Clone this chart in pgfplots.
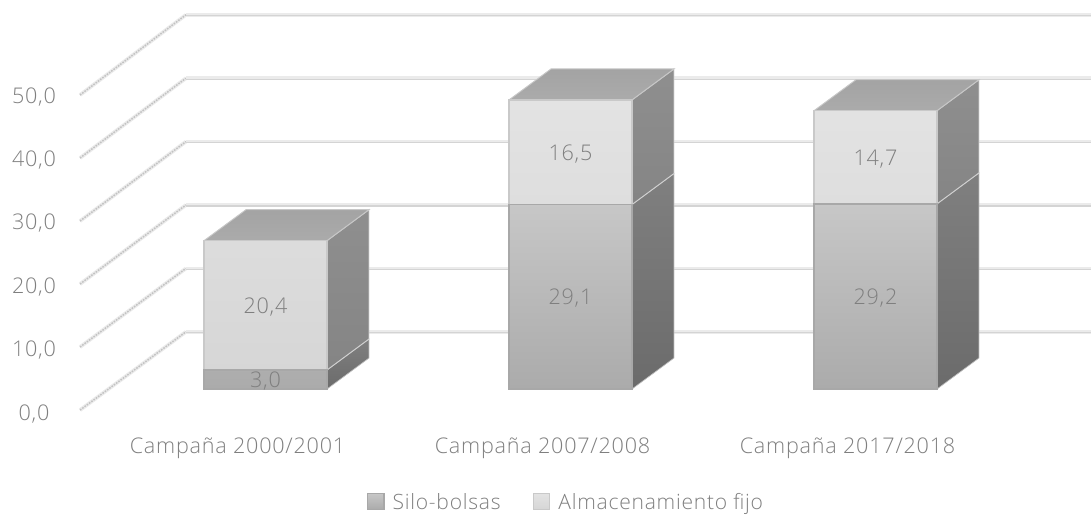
\documentclass[border=0pt]{standalone}
\usepackage{fontspec}
\setmainfont[LetterSpace=3.5]{Open Sans Light}
\usepackage{pgfplots}
\pgfplotsset{compat=1.18}
\definecolor{txt}{HTML}{7F7F7F}
\newcommand{\lblfont}{\fontsize{16.2}{18}\selectfont}
% one pixel of the layout is 0.75pt; all axes share the same frame
\pgfplotsset{
  frame/.style={
    scale only axis, width=818.25pt, height=386.25pt,
    at={(0,0)}, anchor=south west,
    axis line style={draw=none}, major tick length=0pt,
    clip=false,
  },
  barframe/.style={
    frame,
    xmin=-0.8705, xmax=2.7066, ymin=-19.87, ymax=61.36,
    xtick=\empty, ytick=\empty,
  },
  side upper/.style={top color=black!44, bottom color=black!48, draw=black!18, line width=0.7pt},
  side lower/.style={top color=black!50, bottom color=black!58, draw=black!25, line width=0.5pt},
  top face/.style={top color=black!36, bottom color=black!33, draw=black!22, line width=0.7pt},
}
\begin{document}
\begin{tikzpicture}
% walls, floor planes and value axis
\begin{axis}[
  frame,
  xmin=-0.7787, xmax=2.7984, ymin=-16.8, ymax=64.43,
  xtick={0,1,2},
  xticklabels={Campaña 2000/2001,Campaña 2007/2008,Campaña 2017/2018},
  ytick={0,10,20,30,40,50},
  /pgf/number format/assume math mode=true,
  /pgf/number format/.cd, fixed, fixed zerofill, precision=1, use comma, /tikz/.cd,
  xticklabel style={anchor=center, yshift=50.4pt, font=\lblfont, text=txt},
  yticklabel style={anchor=center, xshift=25.5pt, yshift=-3.9pt, font=\lblfont, text=txt},
]
\pgfplotsinvokeforeach{0,10,20,30,40,50}{
  \addplot[forget plot, draw=black!8, line width=2.8pt, line join=round]
    coordinates {(-0.5164,{#1*0.994-0.25}) (-0.1689,#1+12.1)};
  \addplot[forget plot, draw=black!24, line width=1.1pt, dash pattern=on 1.2pt off 0.9pt]
    coordinates {(-0.5164,{#1*0.994-0.25}) (-0.1689,#1+12.1)};
  \addplot[forget plot, draw=black!8, line width=2.8pt]
    coordinates {(-0.1689,#1+12.1) (2.7984,#1+12.1)};
  \addplot[forget plot, draw=black!17, line width=0.9pt]
    coordinates {(-0.1689,#1+11.95) (2.7984,#1+11.95)};
}
\end{axis}
% side and top faces of the columns
\begin{axis}[barframe]
\addplot[side lower] coordinates {(0.2016,0) (0.3393,4.89) (0.3393,7.89) (0.2016,3) (0.2016,0)};
\addplot[side upper] coordinates {(0.2016,3) (0.3393,7.89) (0.3393,28.29) (0.2016,23.4) (0.2016,3)};
\addplot[top face] coordinates {(-0.2016,23.4) (0.2016,23.4) (0.3393,28.29) (-0.0639,28.29) (-0.2016,23.4)};
\addplot[side lower] coordinates {(1.2016,0) (1.3393,4.89) (1.3393,33.99) (1.2016,29.1) (1.2016,0)};
\addplot[side upper] coordinates {(1.2016,29.1) (1.3393,33.99) (1.3393,50.49) (1.2016,45.6) (1.2016,29.1)};
\addplot[top face] coordinates {(0.7984,45.6) (1.2016,45.6) (1.3393,50.49) (0.9361,50.49) (0.7984,45.6)};
\addplot[side lower] coordinates {(2.2016,0) (2.3393,4.89) (2.3393,34.09) (2.2016,29.2) (2.2016,0)};
\addplot[side upper] coordinates {(2.2016,29.2) (2.3393,34.09) (2.3393,48.79) (2.2016,43.9) (2.2016,29.2)};
\addplot[top face] coordinates {(1.7984,43.9) (2.2016,43.9) (2.3393,48.79) (1.9361,48.79) (1.7984,43.9)};
\end{axis}
% front faces, stacked from the two series
\begin{axis}[
  barframe,
  ybar stacked, bar width=0.4032,
  legend style={
    at={(0.519,0.001)}, anchor=south, draw=none, fill=none,
    legend columns=2, font=\fontsize{15.8}{18}\selectfont, text=txt,
    /tikz/every even column/.append style={column sep=22pt},
    /tikz/every odd column/.append style={column sep=4pt},
    inner sep=0pt, outer sep=0pt,
  },
  legend image code/.code={
    \draw[#1, line width=0.9pt] (0pt,-5pt) rectangle (12.5pt,7pt);
  },
]
\addplot[top color=black!22, bottom color=black!33, draw=black!34, line width=1.1pt]
  coordinates {(0,3.0) (1,29.1) (2,29.2)};
\addplot[top color=black!11, bottom color=black!16, draw=black!21, line width=1.1pt]
  coordinates {(0,20.4) (1,16.5) (2,14.7)};
\legend{Silo-bolsas,Almacenamiento fijo}
\end{axis}
% value labels on the front faces
\begin{axis}[barframe]
\addplot[only marks, mark=none, point meta=explicit symbolic,
  nodes near coords, nodes near coords align={center},
  every node near coord/.append style={font=\lblfont, text=txt, yshift=-1.2pt}]
  table[meta=label] {
    x y label
    0 1.5 {3,0}
    0 13.2 {20,4}
    1 14.55 {29,1}
    1 37.35 {16,5}
    2 14.6 {29,2}
    2 36.55 {14,7}
  };
\end{axis}
\pgfresetboundingbox
\path (0,0) rectangle (818.25pt,386.25pt);
\end{tikzpicture}
\end{document}
